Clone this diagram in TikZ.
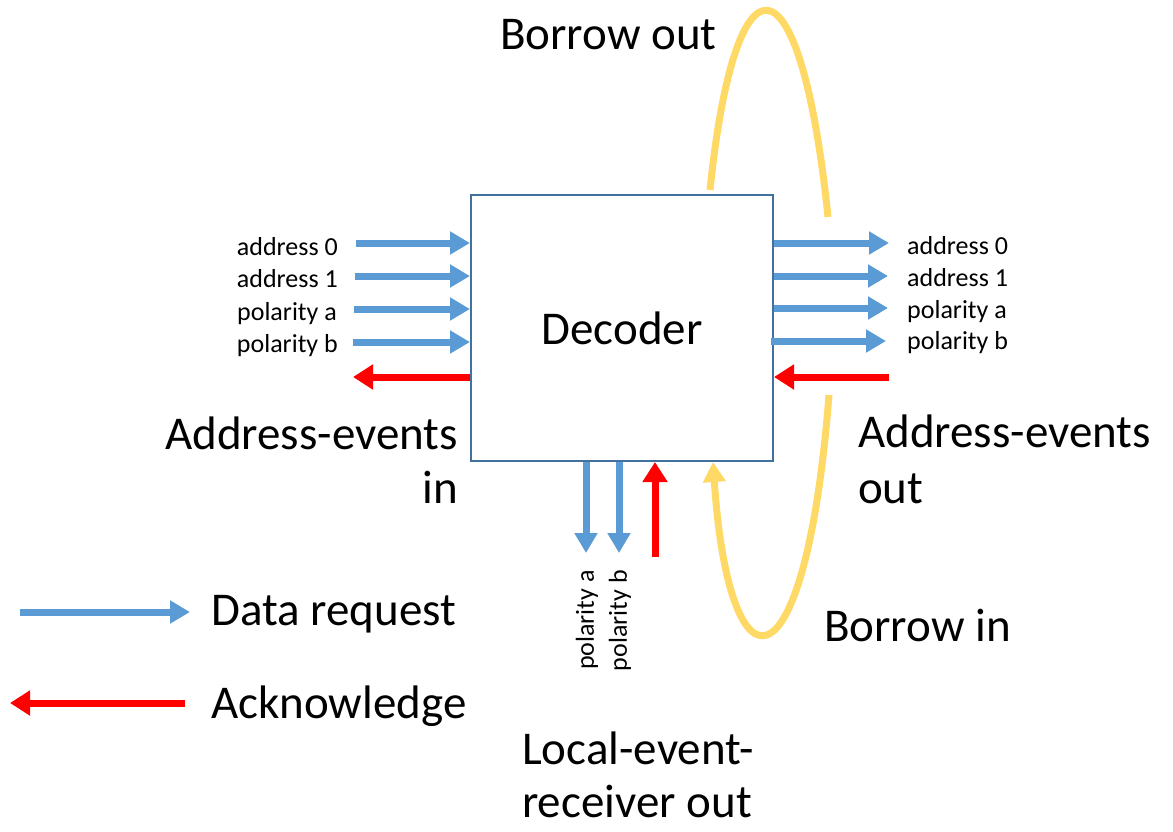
\documentclass[tikz,border=0pt]{standalone}
\usepackage{fontspec}
\setmainfont{Carlito}
\usetikzlibrary{arrows.meta}
\definecolor{reqblue}{HTML}{5B9BD5}
\definecolor{ackred}{HTML}{FF0000}
\definecolor{borrowyellow}{HTML}{FFD966}
\definecolor{boxedge}{HTML}{41719C}
\tikzset{
  big/.style={font=\fontsize{47}{56}\selectfont, inner sep=0pt},
  small/.style={font=\fontsize{26}{31}\selectfont, inner sep=0pt},
  req/.style={draw=reqblue, line width=7pt, -{Triangle[length=20pt,width=22pt]}},
  ack/.style={draw=ackred, line width=7pt, -{Triangle[length=20pt,width=24pt]}},
  borrow/.style={draw=borrowyellow, line width=7pt},
  decbox/.style={draw=boxedge, line width=2pt, minimum width=302pt, minimum height=266pt, inner sep=0pt}
}
\begin{document}
\begin{tikzpicture}[x=1pt, y=-1pt]
\useasboundingbox (0,0) rectangle (1173,831);

% central block
\node[decbox] (dec) at (622,328) {};
\node[big, anchor=base] (dectext) at (622,344) {Decoder};

% input request lines (left)
\coordinate (li0) at (356,243);
\coordinate (li1) at (355,276);
\coordinate (li2) at (354,309);
\coordinate (li3) at (353,342);
\foreach \c in {li0,li1,li2,li3} \draw[req] (\c) -- (\c -| dec.west);
\node[small, anchor=base east] (lt0) at (338,255) {address 0};
\node[small, anchor=base east] (lt1) at (338,287) {address 1};
\node[small, anchor=base east] (lt2) at (337,320) {polarity a};
\node[small, anchor=base east] (lt3) at (338,352) {polarity b};
\coordinate (lack) at (353,377);
\draw[ack] (lack -| dec.west) -- (lack);

% output request lines (right)
\coordinate (ro0) at (889,243);
\coordinate (ro1) at (888,276);
\coordinate (ro2) at (888,308);
\coordinate (ro3) at (886,341);
\foreach \c in {ro0,ro1,ro2} \draw[req] (\c -| dec.east) -- (\c);
\draw[req] ([xshift=-3pt]ro3 -| dec.east) -- (ro3);
\node[small, anchor=base west] (rt0) at (907,254) {address 0};
\node[small, anchor=base west] (rt1) at (907,286) {address 1};
\node[small, anchor=base west] (rt2) at (907,318) {polarity a};
\node[small, anchor=base west] (rt3) at (907,349) {polarity b};
\coordinate (rack) at (889,377);
\draw[ack] (rack) -- (rack -| dec.east);

% local event receiver lines (bottom)
\coordinate (bpa) at (586,553);
\coordinate (bpb) at (619,553);
\coordinate (back) at (655,557);
\draw[req] (bpa |- dec.south) -- (bpa);
\draw[req] (bpb |- dec.south) -- (bpb);
\draw[ack] (back) -- (back |- dec.south);
\node[small, rotate=90, anchor=east] (bta) at (587,570) {polarity a};
\node[small, rotate=90, anchor=east] (btb) at (620,570) {polarity b};

% borrow loops
\coordinate (bo1) at (710,190);
\coordinate (bo2) at (828,217);
\draw[borrow] (bo1) .. controls (735,-54) and (800,-54) .. (bo2);
\coordinate (bi1) at (829,395);
\coordinate (bi2) at (713,462);
\draw[borrow, -{Triangle[length=20pt,width=22pt]}] (bi1) .. controls (805,700) and (729,700) .. (bi2);

% port labels
\node[big, anchor=base west] (borrowout) at (500,49) {Borrow out};
\node[big, anchor=base west] (borrowin) at (824,641) {Borrow in};
\node[big, anchor=base east] (aein1) at (458,449) {Address-events};
\node[big, anchor=base east] (aein2) at (458,503) {in};
\node[big, anchor=base west] (aeout1) at (858,447) {Address-events};
\node[big, anchor=base west] (aeout2) at (858,503) {out};
\node[big, anchor=base west] (ler1) at (522,764) {Local-event-};
\node[big, anchor=base west] (ler2) at (522,817) {receiver out};

% legend
\coordinate (lg1a) at (20,612);
\coordinate (lg1b) at (190,612);
\draw[req] (lg1a) -- (lg1b);
\coordinate (lg2a) at (185,703);
\coordinate (lg2b) at (10,703);
\draw[ack] (lg2a) -- (lg2b);
\node[big, anchor=base west] (lgreq) at (211,625) {Data request};
\node[big, anchor=base west] (lgack) at (211,718) {Acknowledge};
\end{tikzpicture}
\end{document}
